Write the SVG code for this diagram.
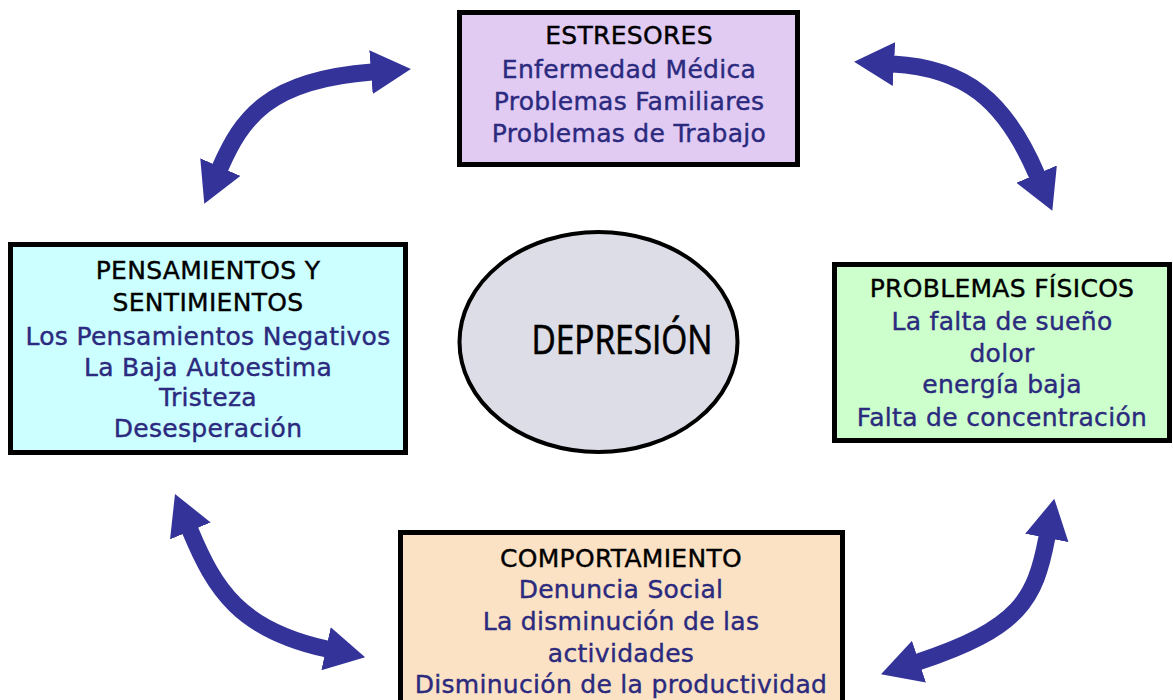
<svg xmlns="http://www.w3.org/2000/svg" width="1173" height="700" viewBox="0 0 1173 700">
  <defs>
    <style>
      .box { stroke: #000; stroke-width: 5; }
      .t { font-family: "DejaVu Sans", Verdana, sans-serif; font-size: 25px; letter-spacing: 0.3px; text-anchor: middle; stroke-width: 0.4px; }
      .h { fill: #000; stroke: #000; }
      .b { fill: #2b2a7e; stroke: #2b2a7e; }
      .conn { fill: none; stroke: #333399; stroke-width: 17; }
    </style>
    <marker id="head" markerUnits="userSpaceOnUse" markerWidth="40" markerHeight="44" viewBox="0 0 40 44" refX="1" refY="22" orient="auto-start-reverse">
      <path d="M0,0 L40,22 L0,44 Z" fill="#333399"/>
    </marker>
  </defs>
  <rect width="1173" height="700" fill="#fff"/>

  <g id="connectors">
    <path class="conn" d="M220,168 C242,118 268,80 372,72" marker-start="url(#head)" marker-end="url(#head)"/>
    <path class="conn" d="M893,64 C965,68 1005,100 1037,175" marker-start="url(#head)" marker-end="url(#head)"/>
    <path class="conn" d="M190,530 C215,590 240,630 327,649" marker-start="url(#head)" marker-end="url(#head)"/>
    <path class="conn" d="M1047,537 C1035,600 1020,628 918,662" marker-start="url(#head)" marker-end="url(#head)"/>
  </g>

  <g id="estresores">
    <rect class="box" x="459.5" y="12.5" width="338" height="152" fill="#e1cbf3"/>
    <text class="t h" x="629" y="44">ESTRESORES</text>
    <text class="t b" x="629" y="78">Enfermedad Médica</text>
    <text class="t b" x="629" y="110">Problemas Familiares</text>
    <text class="t b" x="629" y="142">Problemas de Trabajo</text>
  </g>

  <g id="pensamientos">
    <rect class="box" x="10.5" y="244.5" width="395" height="208" fill="#ccffff"/>
    <text class="t h" x="208" y="279">PENSAMIENTOS Y</text>
    <text class="t h" x="208" y="311">SENTIMIENTOS</text>
    <text class="t b" x="208" y="345">Los Pensamientos Negativos</text>
    <text class="t b" x="208" y="376">La Baja Autoestima</text>
    <text class="t b" x="208" y="406">Tristeza</text>
    <text class="t b" x="208" y="437">Desesperación</text>
  </g>

  <g id="fisicos">
    <rect class="box" x="834.5" y="264.5" width="335" height="176" fill="#ccffcc"/>
    <text class="t h" x="1002" y="297">PROBLEMAS FÍSICOS</text>
    <text class="t b" x="1002" y="330">La falta de sueño</text>
    <text class="t b" x="1002" y="362">dolor</text>
    <text class="t b" x="1002" y="393">energía baja</text>
    <text class="t b" x="1002" y="426">Falta de concentración</text>
  </g>

  <g id="comportamiento">
    <rect class="box" x="400.5" y="532.5" width="442" height="180" fill="#fce2c4"/>
    <text class="t h" x="621" y="567">COMPORTAMIENTO</text>
    <text class="t b" x="621" y="598">Denuncia Social</text>
    <text class="t b" x="621" y="630">La disminución de las</text>
    <text class="t b" x="621" y="662">actividades</text>
    <text class="t b" x="621" y="693">Disminución de la productividad</text>
  </g>

  <g id="depresion">
    <ellipse cx="598.5" cy="342" rx="139" ry="110" fill="#dcdde6" stroke="#000" stroke-width="4"/>
    <text x="622" y="354" font-family="'Open Sans', Lato, sans-serif" font-size="40" text-anchor="middle" textLength="181" lengthAdjust="spacingAndGlyphs" fill="#000" stroke="#000" stroke-width="0.7">DEPRESIÓN</text>
  </g>
</svg>
